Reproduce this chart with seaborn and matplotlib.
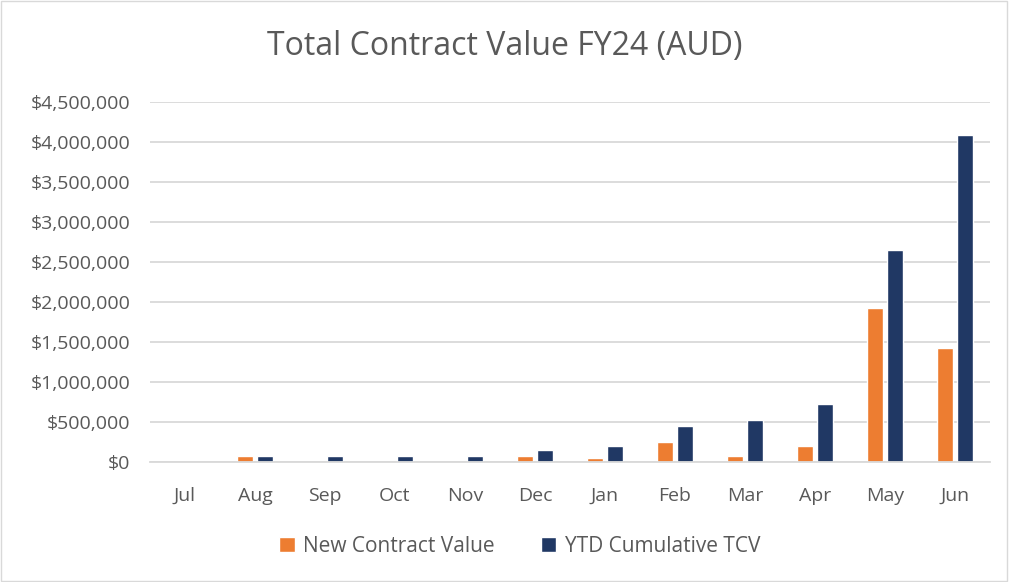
import pandas as pd
import seaborn as sns
import matplotlib.pyplot as plt
from matplotlib.ticker import FuncFormatter, MultipleLocator

months = ["Jul", "Aug", "Sep", "Oct", "Nov", "Dec", "Jan", "Feb", "Mar", "Apr", "May", "Jun"]
new_value = [0, 75000, 0, 0, 0, 75000, 50000, 250000, 80000, 195000, 1920000, 1425000]
ytd_tcv = [0, 75000, 75000, 75000, 75000, 150000, 200000, 455000, 530000, 730000, 2655000, 4090000]

series_names = ["New Contract Value", "YTD Cumulative TCV"]
colors = ["#ED7D31", "#203864"]

df = pd.DataFrame({
    "Month": months * 2,
    "Value": new_value + ytd_tcv,
    "Series": [series_names[0]] * len(months) + [series_names[1]] * len(months),
})

sns.set_style("white")
plt.rcParams["font.family"] = ["Open Sans", "DejaVu Sans"]
txt = "#595959"

fig = plt.figure(figsize=(10.09, 5.82), dpi=100)
ax = fig.add_axes([150 / 1009, 1 - 462 / 582, 840 / 1009, 360 / 582])

sns.barplot(data=df, x="Month", y="Value", hue="Series", palette=colors, saturation=1,
            width=0.57, gap=0.2, order=months, hue_order=series_names, ax=ax)

ax.set_xlim(-0.5, 11.5)
ax.set_ylim(0, 4500000)
ax.yaxis.set_major_locator(MultipleLocator(500000))
ax.yaxis.set_major_formatter(FuncFormatter(lambda v, p: "${:,.0f}".format(v)))
ax.grid(axis="y", color="#D9D9D9", linewidth=1.3)
ax.set_axisbelow(True)
for s in ["top", "right", "left"]:
    ax.spines[s].set_visible(False)
ax.spines["bottom"].set_color("#D9D9D9")
ax.spines["bottom"].set_linewidth(1.3)
ax.tick_params(axis="y", length=0, labelsize=14, colors=txt, pad=14)
ax.tick_params(axis="x", length=0, labelsize=14, colors=txt, pad=18)
ax.set_xlabel("")
ax.set_ylabel("")

fig.suptitle("Total Contract Value FY24 (AUD)", y=1 - 47 / 582, va="center",
             fontsize=23, color=txt)

ax.legend_.remove()
handles, labels = ax.get_legend_handles_labels()
fig.legend(handles, labels, loc="center", bbox_to_anchor=(0.515, 1 - 546 / 582),
           ncol=2, frameon=False, fontsize=15, labelcolor=txt,
           handlelength=0.75, handleheight=0.75, handletextpad=0.4, columnspacing=2.2)

fig.patches.append(plt.Rectangle((0.001, 0.002), 0.997, 0.996, transform=fig.transFigure,
                                 fill=False, edgecolor="#D9D9D9", linewidth=1))

fig.savefig("out.png", dpi=100, facecolor="white")
